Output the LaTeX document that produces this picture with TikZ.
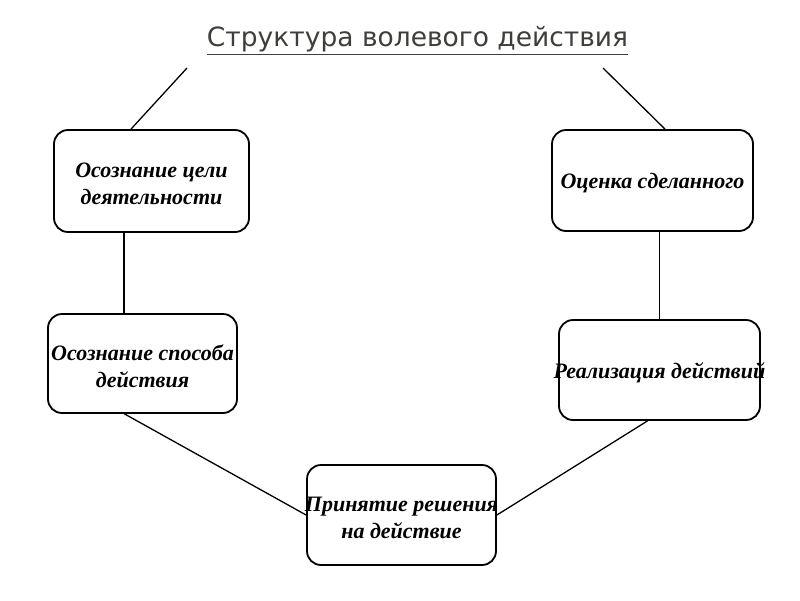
\documentclass[tikz,border=0pt]{standalone}
\usepackage{fontspec}
\newfontfamily\titlefont{DejaVu Sans}
\newfontfamily\boxfont{Liberation Serif}
\usetikzlibrary{positioning}
\definecolor{titlegray}{RGB}{64,62,58}
\tikzset{
  stage/.style={draw=black, line width=1.8pt, rounded corners=14pt, fill=white, inner sep=0pt},
  stagetext/.style={font=\boxfont\bfseries\itshape\fontsize{22}{27}\selectfont, align=center, yshift=-3pt},
  link/.style={line width=1.3pt}
}
\begin{document}
\begin{tikzpicture}[x=1pt,y=-1pt]
  \useasboundingbox (0,0) rectangle (800,600);
 %title
  \node[font=\titlefont\fontsize{26.5}{30}\selectfont, text=titlegray] (title) at (417.5,40.5) {\underline{Структура волевого действия}};
 %stages
  \node[stage, minimum width=195pt, minimum height=102pt, label={[stagetext]center:Осознание цели\\деятельности}] (ocel) at (151.5,181) {};
  \node[stage, minimum width=201pt, minimum height=101pt, label={[stagetext]center:Оценка сделанного}] (ocenka) at (652.5,180.5) {};
  \node[stage, minimum width=189pt, minimum height=99pt, label={[stagetext]center:Осознание способа\\действия}] (sposob) at (142.5,363.5) {};
  \node[stage, minimum width=201pt, minimum height=100pt, label={[stagetext]center:Реализация действий}] (realiz) at (659.5,370) {};
  \node[stage, minimum width=189pt, minimum height=100pt, label={[stagetext]center:Принятие решения\\на действие}] (prinyat) at (401.5,515) {};
 %free ends under the title
  \coordinate (tl) at (187,68);
  \coordinate (tr) at (603,68);
 %links
  \draw[link] (tl) -- ([xshift=-20.5pt]ocel.north);
  \draw[link] (tr) -- ([xshift=12.5pt]ocenka.north);
  \draw[link] ([xshift=-27.5pt]ocel.south) -- ([xshift=-27.5pt]ocel.south |- sposob.north);
  \draw[link] ([xshift=7pt]ocenka.south) -- (realiz.north);
  \draw[link] ([xshift=-18pt]sposob.south) -- (prinyat.west);
  \draw[link] ([xshift=-12pt]realiz.south) -- (prinyat.east);
\end{tikzpicture}
\end{document}
